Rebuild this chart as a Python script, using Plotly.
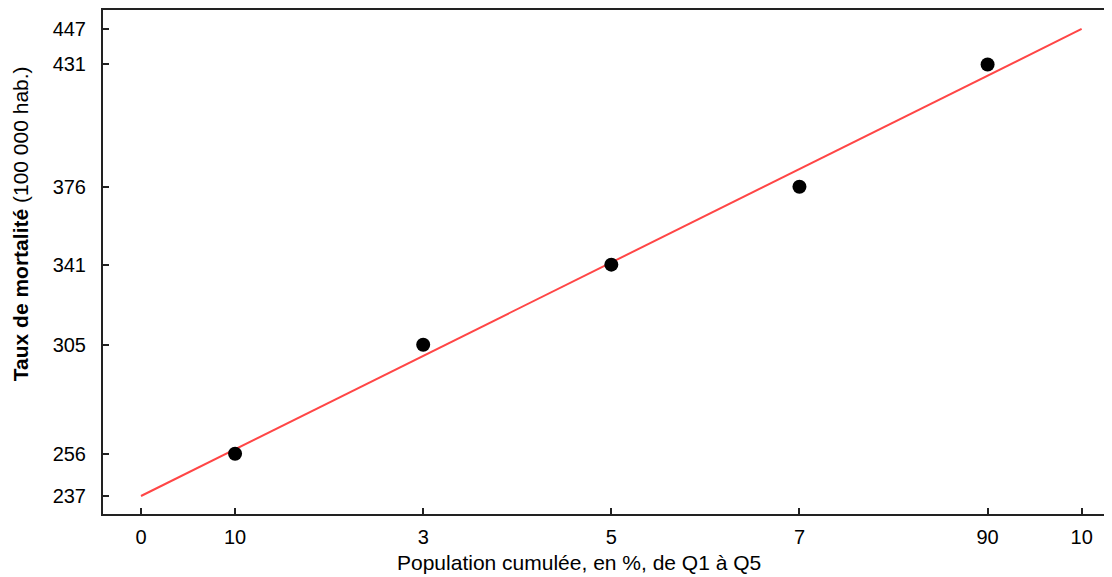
import plotly.graph_objects as go

# Data
pop_cum = [10, 30, 50, 70, 90]
mortalite = [256, 305, 341, 376, 431]
fit_x = [0, 100]
fit_y = [237, 447]
x_tickvals = [0, 10, 30, 50, 70, 90, 100]
x_ticktext = ["0", "10", "3", "5", "7", "90", "10"]
y_tickvals = [237, 256, 305, 341, 376, 431, 447]
y_ticktext = ["237", "256", "305", "341", "376", "431", "447"]

FONT = "Liberation Sans, Arial, sans-serif"

fig = go.Figure()
fig.add_trace(go.Scatter(
    x=fit_x, y=fit_y, mode="lines",
    line=dict(color="rgb(255,70,70)", width=2),
    showlegend=False, hoverinfo="skip",
))
fig.add_trace(go.Scatter(
    x=pop_cum, y=mortalite, mode="markers",
    marker=dict(color="black", size=14),
    showlegend=False,
))

fig.update_layout(
    width=1104, height=569,
    margin=dict(l=95, r=4, t=0, b=63),
    paper_bgcolor="white", plot_bgcolor="white",
    font=dict(family=FONT, size=20, color="black"),
    xaxis=dict(
        range=[-4.04, 102.8],
        tickvals=x_tickvals, ticktext=x_ticktext,
        ticks="inside", ticklen=6, tickwidth=2, tickcolor="#222",
        showline=True, linecolor="#222", linewidth=2, mirror=True,
        showgrid=False, zeroline=False,
        ticklabelstandoff=4,
        tickfont=dict(size=20),
    ),
    yaxis=dict(
        range=[228.9, 455.5],
        tickvals=y_tickvals, ticktext=y_ticktext,
        ticks="inside", ticklen=6, tickwidth=2, tickcolor="#222",
        showline=True, linecolor="#222", linewidth=2, mirror=True,
        showgrid=False, zeroline=False,
        ticklabelstandoff=11,
        tickfont=dict(size=20),
    ),
    annotations=[
        dict(
            text="<b>Taux de mortalité</b> (100 000 hab.)",
            xref="paper", yref="paper", x=-0.0826, y=0.577,
            textangle=-90, showarrow=False,
            xanchor="center", yanchor="middle",
            font=dict(size=21),
        ),
        dict(
            text="Population cumulée, en %, de Q1 à Q5",
            xref="paper", yref="paper", x=0.4736, y=-0.097,
            showarrow=False, xanchor="center", yanchor="middle",
            font=dict(size=21),
        ),
    ],
)

fig.write_html("out.html")
